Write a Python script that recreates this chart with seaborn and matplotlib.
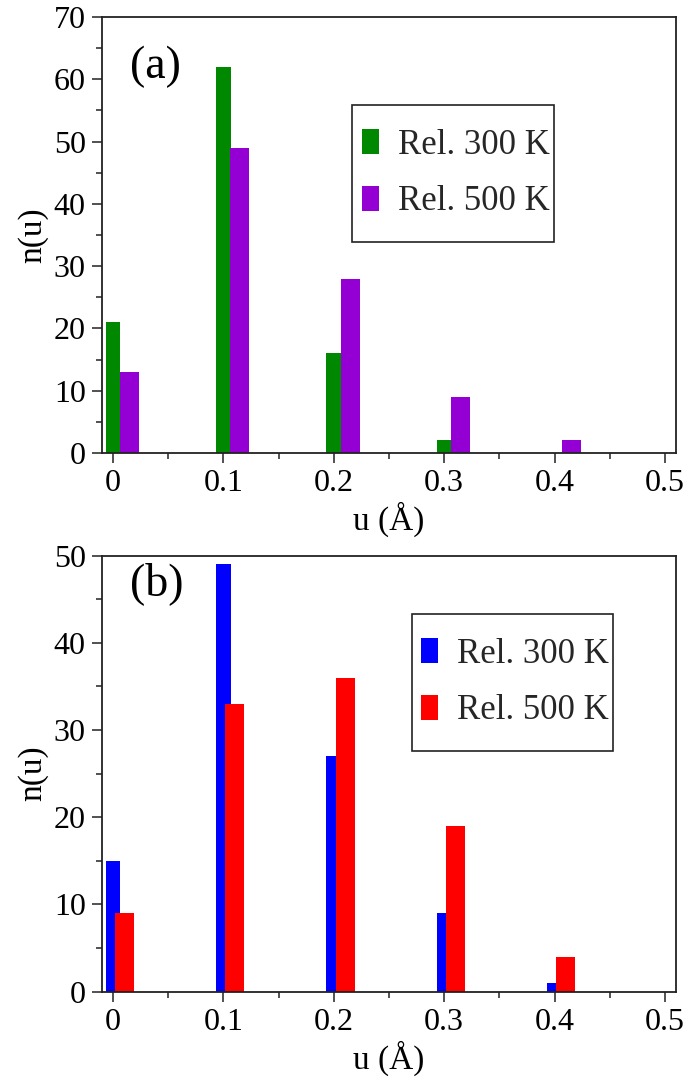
import numpy as np
import pandas as pd
import matplotlib
matplotlib.use("Agg")
import matplotlib.pyplot as plt
import seaborn as sns
from matplotlib.ticker import MultipleLocator
from matplotlib.patches import Rectangle

# ---- data ----
u = [0.0, 0.1, 0.2, 0.3, 0.4]
a_300 = [21, 62, 16, 2, 0]
a_500 = [13, 49, 28, 9, 2]
b_300 = [15, 49, 27, 9, 1]
b_500 = [9, 33, 36, 19, 4]
series_labels = ["Rel. 300 K", "Rel. 500 K"]
colors_a = ["#008800", "#9400D3"]
colors_b = ["#0000FF", "#FF0000"]
x_label = "u (Å)"
y_label = "n(u)"

sns.set_theme(style="white")
plt.rcParams['font.family'] = ['Liberation Serif', 'DejaVu Serif']

fig = plt.figure(figsize=(6.89, 10.8), dpi=100)
ax_a = fig.add_axes([0.1485, 0.5806, 0.8327, 0.4037])
ax_b = fig.add_axes([0.1485, 0.0818, 0.8327, 0.4037])

TICK_FS = 23
LAB_FS = 24
LEG_FS = 25
TAG_FS = 33


def panel(ax, v300, v500, cols, offset, ymax, tag, tag_pos, box, leg_anchor):
    df1 = pd.DataFrame({"u": u, "n": v300})
    df2 = pd.DataFrame({"u": np.array(u) + offset, "n": v500})
    sns.barplot(data=df1, x="u", y="n", native_scale=True, width=0.135,
                color=cols[0], saturation=1, linewidth=0, errorbar=None,
                label=series_labels[0], ax=ax)
    sns.barplot(data=df2, x="u", y="n", native_scale=True, width=0.172,
                color=cols[1], saturation=1, linewidth=0, errorbar=None,
                label=series_labels[1], ax=ax)
    ax.set_ylim(0, ymax)
    ax.xaxis.set_major_locator(MultipleLocator(0.1))
    ax.xaxis.set_minor_locator(MultipleLocator(0.05))
    ax.yaxis.set_major_locator(MultipleLocator(10))
    ax.yaxis.set_minor_locator(MultipleLocator(5))
    ax.set_xlim(-0.0097, 0.51)
    ticks = [t for t in ax.get_xticks() if -0.001 <= t <= 0.5001]
    ax.set_xticks(ticks)
    ax.set_xticklabels(["0" if abs(t) < 1e-9 else f"{t:.1f}" for t in ticks])
    ax.set_xlim(-0.0097, 0.51)
    ax.tick_params(axis='x', which='major', direction='out', length=7.5, width=1.1,
                   labelsize=TICK_FS, pad=4, color='#222222', bottom=True)
    ax.tick_params(axis='x', which='minor', direction='out', length=4.5, width=1.1,
                   color='#222222', bottom=True)
    ax.tick_params(axis='y', which='major', direction='out', length=7, width=1.1,
                   labelsize=TICK_FS, pad=5, color='#222222', left=True)
    ax.tick_params(axis='y', which='minor', direction='out', length=4, width=1.1,
                   color='#222222', left=True)
    for s in ax.spines.values():
        s.set_color('#222222')
        s.set_linewidth(1.3)
    ax.set_xlabel(x_label, fontsize=LAB_FS, labelpad=3, color='black')
    ax.set_ylabel(y_label, fontsize=LAB_FS, labelpad=4, color='black')
    for lab in ax.get_xticklabels() + ax.get_yticklabels():
        lab.set_color('black')
    ax.text(tag_pos[0], tag_pos[1], tag, transform=ax.transAxes, fontsize=TAG_FS,
            ha='left', va='center', color='black')
    ax.add_patch(Rectangle((box[0], box[1]), box[2], box[3], transform=ax.transAxes,
                           facecolor='white', edgecolor='#222222', linewidth=1.2,
                           zorder=4))
    leg = ax.legend(loc='center left', bbox_to_anchor=leg_anchor, borderaxespad=0,
                    fontsize=LEG_FS, frameon=False, handlelength=0.49,
                    handleheight=0.72, handletextpad=0.55, labelspacing=0.68,
                    borderpad=0)
    leg.set_zorder(5)


panel(ax_a, a_300, a_500, colors_a, 0.015, 70, "(a)", (0.048, 0.885),
      (0.435, 0.484, 0.352, 0.314), (0.4527, 0.641))
panel(ax_b, b_300, b_500, colors_b, 0.0102, 50, "(b)", (0.048, 0.937),
      (0.540, 0.552, 0.350, 0.314), (0.5555, 0.709))

fig.savefig("out.png", dpi=100)
